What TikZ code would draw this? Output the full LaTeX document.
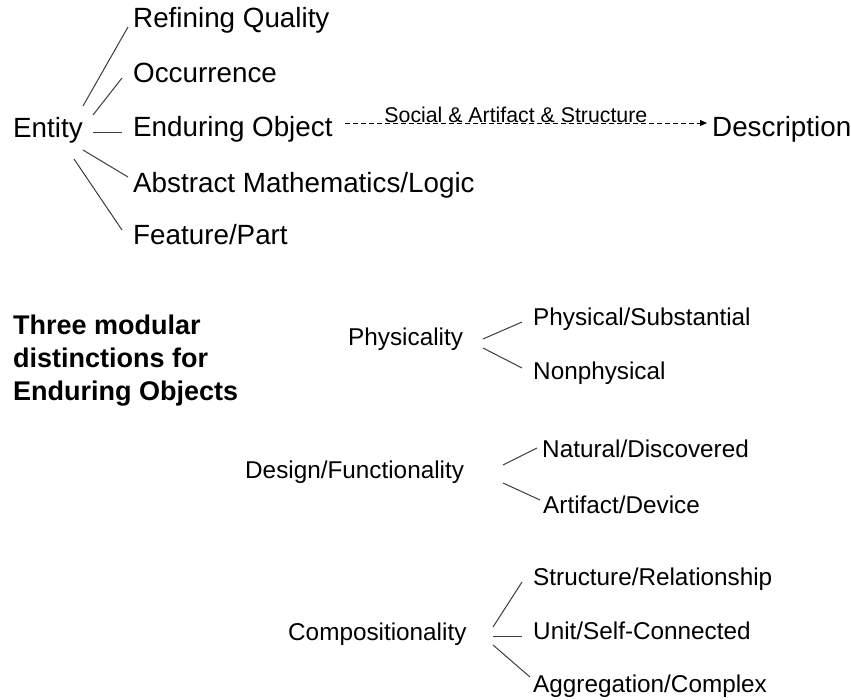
\documentclass[tikz,border=0pt]{standalone}
\usepackage{fontspec}
\setmainfont{Liberation Sans}
\usetikzlibrary{arrows.meta}
\definecolor{linegray}{RGB}{60,60,60}
\begin{document}
\begin{tikzpicture}[x=1pt,y=-1pt,
  toptxt/.style={font=\fontsize{27.8}{33}\selectfont, inner sep=0pt, anchor=base west},
  subtxt/.style={font=\fontsize{24.3}{29}\selectfont, inner sep=0pt, anchor=base west},
  lbltxt/.style={font=\fontsize{21.3}{24}\selectfont, inner sep=0pt},
  titletxt/.style={font=\bfseries\fontsize{27}{33}\selectfont, inner sep=0pt, anchor=north west, align=left},
  branch/.style={draw=linegray, line width=1pt},
  dasharrow/.style={draw=black, line width=0.8pt, dash pattern=on 5pt off 3pt, -{Triangle[length=7pt,width=6pt]}}]
\useasboundingbox (0,0) rectangle (851,700);

% top taxonomy
\node[toptxt] (ent)  at (13,138)  {Entity};
\node[toptxt] (rq)   at (133,28)  {Refining Quality};
\node[toptxt] (oc)   at (133,83)  {Occurrence};
\node[toptxt] (eo)   at (133,137) {Enduring Object};
\node[toptxt] (am)   at (133,193) {Abstract Mathematics/Logic};
\node[toptxt] (fp)   at (133,245) {Feature/Part};
\node[toptxt] (desc) at (712,137) {Description};

\draw[branch] ([shift={(70,-32)}]ent.base west) -- ([shift={(-5,-1)}]rq.base west);
\draw[branch] ([shift={(80,-23)}]ent.base west) -- ([shift={(-11,-5)}]oc.base west);
\draw[branch] ([shift={(80,-5)}]ent.base west) -- ([shift={(-11,-4)}]eo.base west);
\draw[branch] ([shift={(70,12)}]ent.base west) -- ([shift={(-5,-16)}]am.base west);
\draw[branch] ([shift={(61,21)}]ent.base west) -- ([shift={(-11,-15)}]fp.base west);

\draw[dasharrow] ([shift={(212,-14)}]eo.base west) -- node[lbltxt, pos=0.472, anchor=base] (lbl) {Social \& Artifact \& Structure} ([shift={(-5,-14)}]desc.base west);

% title
\node[titletxt] (title) at (13,315) {Three modular\\distinctions for\\Enduring Objects};

% physicality
\node[subtxt] (ph) at (348,345) {Physicality};
\node[subtxt] (ps) at (533,326) {Physical/Substantial};
\node[subtxt] (np) at (533,379) {Nonphysical};
\draw[branch] ([shift={(135,-6)}]ph.base west) -- ([shift={(-11,-4)}]ps.base west);
\draw[branch] ([shift={(135,3)}]ph.base west) -- ([shift={(-11,-11)}]np.base west);

% design
\node[subtxt] (df) at (245,478) {Design/Functionality};
\node[subtxt] (nd) at (542,457) {Natural/Discovered};
\node[subtxt] (ad) at (543,513) {Artifact/Device};
\draw[branch] ([shift={(258,-13)}]df.base west) -- ([shift={(-5,-9)}]nd.base west);
\draw[branch] ([shift={(258,5)}]df.base west) -- ([shift={(-3,-13)}]ad.base west);

% compositionality
\node[subtxt] (co) at (288,640) {Compositionality};
\node[subtxt] (sr) at (533,585) {Structure/Relationship};
\node[subtxt] (us) at (533,639) {Unit/Self-Connected};
\node[subtxt] (ac) at (533,692) {Aggregation/Complex};
\draw[branch] ([shift={(205,-13)}]co.base west) -- ([shift={(-11,-3)}]sr.base west);
\draw[branch] ([shift={(205,-4)}]co.base west) -- ([shift={(-11,-3)}]us.base west);
\draw[branch] ([shift={(205,5)}]co.base west) -- ([shift={(-3,-15)}]ac.base west);
\end{tikzpicture}
\end{document}
